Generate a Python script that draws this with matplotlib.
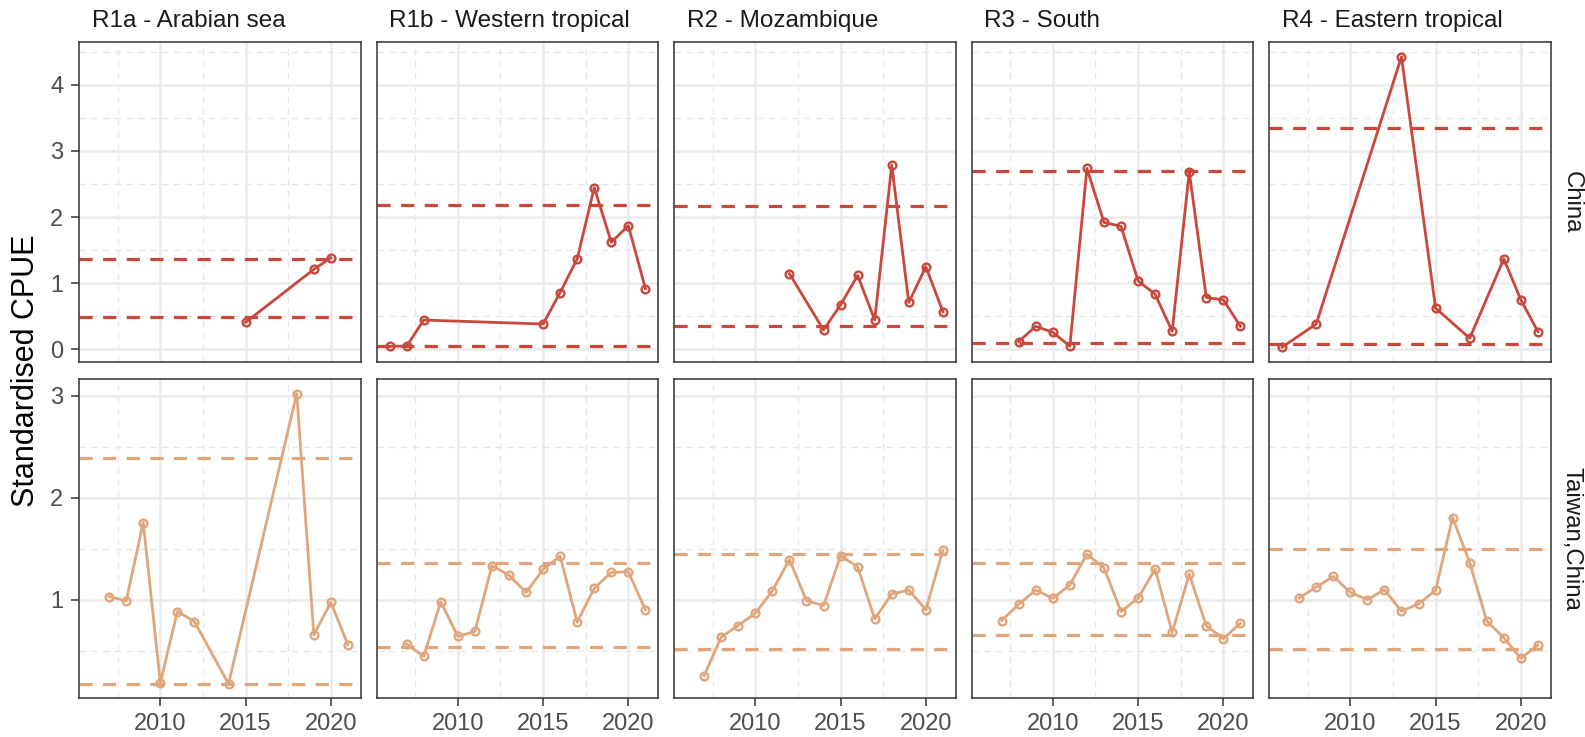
import numpy as np
import matplotlib.pyplot as plt

plt.rcParams['font.family'] = ['Liberation Sans', 'DejaVu Sans']
plt.rcParams['lines.scale_dashes'] = False

regions = ["R1a - Arabian sea", "R1b - Western tropical", "R2 - Mozambique",
           "R3 - South", "R4 - Eastern tropical"]
fleets = ["China", "Taiwan,China"]

# China (top row)
cn_r1a_yr = [2015, 2019, 2020]
cn_r1a = [0.41, 1.21, 1.385]
cn_r1b_yr = [2006, 2007, 2008, 2015, 2016, 2017, 2018, 2019, 2020, 2021]
cn_r1b = [0.05, 0.05, 0.445, 0.385, 0.86, 1.37, 2.445, 1.62, 1.87, 0.92]
cn_r2_yr = [2012, 2014, 2015, 2016, 2017, 2018, 2019, 2020, 2021]
cn_r2 = [1.145, 0.295, 0.675, 1.12, 0.445, 2.785, 0.71, 1.25, 0.57]
cn_r3_yr = [2008, 2009, 2010, 2011, 2012, 2013, 2014, 2015, 2016, 2017, 2018, 2019, 2020, 2021]
cn_r3 = [0.12, 0.35, 0.26, 0.05, 2.735, 1.92, 1.86, 1.035, 0.835, 0.275, 2.685, 0.785, 0.75, 0.35]
cn_r4_yr = [2006, 2008, 2013, 2015, 2017, 2019, 2020, 2021]
cn_r4 = [0.035, 0.385, 4.42, 0.625, 0.17, 1.37, 0.75, 0.27]
cn_lo = [0.485, 0.05, 0.36, 0.095, 0.085]
cn_hi = [1.37, 2.185, 2.17, 2.70, 3.35]

# Taiwan,China (bottom row)
full_yr = [2007, 2008, 2009, 2010, 2011, 2012, 2013, 2014, 2015, 2016, 2017, 2018, 2019, 2020, 2021]
tw_r1a_yr = [2007, 2008, 2009, 2010, 2011, 2012, 2014, 2018, 2019, 2020, 2021]
tw_r1a = [1.03, 0.987, 1.755, 0.184, 0.883, 0.785, 0.174, 3.02, 0.655, 0.974, 0.558]
tw_r1b = [0.564, 0.444, 0.98, 0.639, 0.688, 1.332, 1.24, 1.07, 1.296, 1.426, 0.779, 1.11, 1.267, 1.273, 0.9]
tw_r2 = [0.255, 0.633, 0.746, 0.867, 1.085, 1.393, 0.99, 0.941, 1.429, 1.322, 0.811, 1.055, 1.094, 0.9, 1.485]
tw_r3 = [0.795, 0.954, 1.094, 1.013, 1.143, 1.446, 1.312, 0.883, 1.013, 1.3, 0.678, 1.25, 0.743, 0.616, 0.769]
tw_r4 = [1.016, 1.123, 1.227, 1.071, 1.0, 1.097, 0.887, 0.958, 1.091, 1.804, 1.363, 0.789, 0.627, 0.423, 0.556]
tw_lo = [0.177, 0.532, 0.515, 0.658, 0.52]
tw_hi = [2.385, 1.36, 1.446, 1.355, 1.493]

rows = [
    dict(years=[cn_r1a_yr, cn_r1b_yr, cn_r2_yr, cn_r3_yr, cn_r4_yr],
         vals=[cn_r1a, cn_r1b, cn_r2, cn_r3, cn_r4], lo=cn_lo, hi=cn_hi,
         color="#C9473B", major=[0, 1, 2, 3, 4], minor=[0.5, 1.5, 2.5, 3.5, 4.5]),
    dict(years=[tw_r1a_yr, full_yr, full_yr, full_yr, full_yr],
         vals=[tw_r1a, tw_r1b, tw_r2, tw_r3, tw_r4], lo=tw_lo, hi=tw_hi,
         color="#E0A57B", major=[1, 2, 3], minor=[0.5, 1.5, 2.5]),
]

W, H = 1585, 737
fig = plt.figure(figsize=(W / 100, H / 100), dpi=100)

left0, pw, step = 79.3, 281.4, 297.5
row_top = [42.3, 379.0]
ph = 319.4

all_years = [y for r in rows for ys in r["years"] for y in ys]
x0, x1 = min(all_years), max(all_years)
xpad = (x1 - x0) * 0.05

for ri, row in enumerate(rows):
    allv = [v for vs in row["vals"] for v in vs] + row["lo"] + row["hi"]
    y0, y1 = min(allv), max(allv)
    ypad = (y1 - y0) * 0.05
    for ci in range(5):
        ax = fig.add_axes([(left0 + ci * step) / W, (H - row_top[ri] - ph) / H, pw / W, ph / H])
        ax.set_xlim(x0 - xpad, x1 + xpad)
        ax.set_ylim(y0 - ypad, y1 + ypad)
        # grid
        for gx in [2010, 2015, 2020]:
            ax.axvline(gx, color="#EBEBEB", lw=1.8, zorder=0)
        for gx in [2007.5, 2012.5, 2017.5]:
            ax.axvline(gx, color="#E6E6E6", lw=0.9, dashes=(4.5, 4), zorder=0)
        for gy in row["major"]:
            ax.axhline(gy, color="#EBEBEB", lw=1.8, zorder=0)
        for gy in row["minor"]:
            ax.axhline(gy, color="#E6E6E6", lw=0.9, dashes=(4.5, 4), zorder=0)

        c = row["color"]
        ax.axhline(row["lo"][ci], color=c, lw=2.3, dashes=(9.5, 7.5), zorder=2)
        ax.axhline(row["hi"][ci], color=c, lw=2.3, dashes=(9.5, 7.5), zorder=2)
        ax.plot(row["years"][ci], row["vals"][ci], color=c, lw=2.0, marker="o",
                ms=5.6, mfc="none", mec=c, mew=1.7, zorder=3)

        for s in ax.spines.values():
            s.set_color("#333333")
            s.set_linewidth(1.1)

        ax.set_xticks([2010, 2015, 2020])
        ax.set_yticks(row["major"])
        ax.tick_params(length=5.5, width=1.1, color="#333333", labelsize=17,
                       labelcolor="#4D4D4D", pad=5)
        if ri == 0:
            ax.tick_params(axis="x", length=0, labelbottom=False)
            ax.annotate(regions[ci], xy=(0, 1), xycoords="axes fraction",
                        xytext=(9, 11.2), textcoords="offset points",
                        ha="left", va="baseline", fontsize=17.5, color="#1A1A1A")
        if ci > 0:
            ax.tick_params(axis="y", length=0, labelleft=False)
        else:
            ax.tick_params(axis="y", pad=6)
        if ci == 4:
            ax.annotate(fleets[ri], xy=(1, 0.5), xycoords="axes fraction",
                        xytext=(15, 0), textcoords="offset points",
                        ha="center", va="center", rotation=270,
                        fontsize=17.3, color="#1A1A1A")

fig.text(26 / W, (H - 371) / H, "Standardised CPUE", rotation=90,
         ha="center", va="center", fontsize=22, color="black")

fig.savefig("out.png", dpi=100)
